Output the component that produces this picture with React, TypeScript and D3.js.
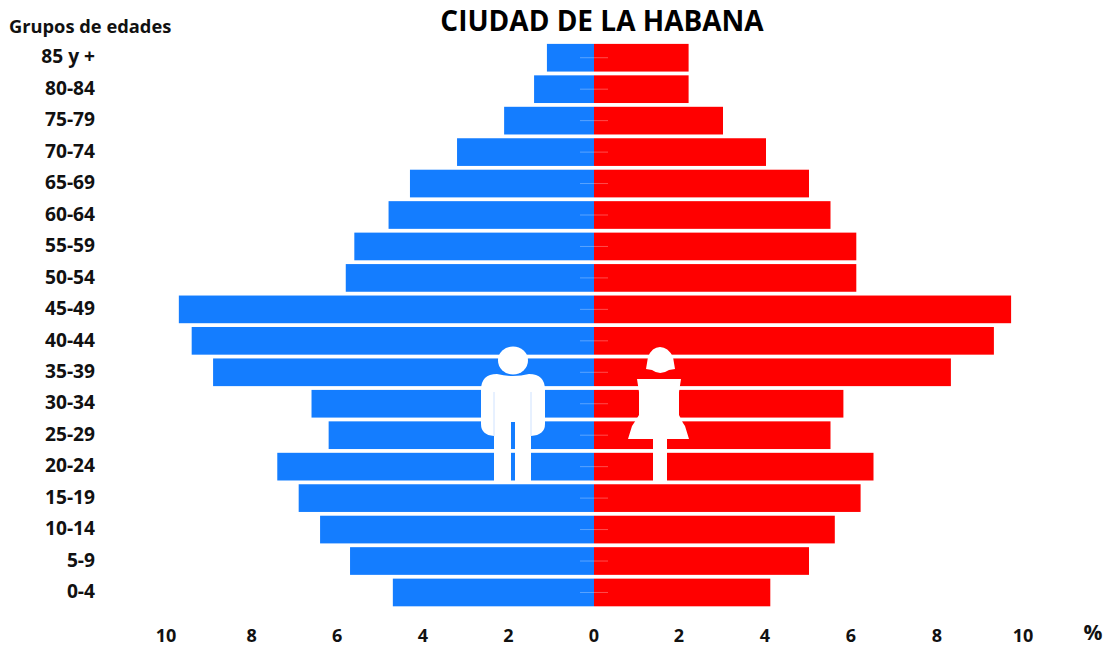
import React from 'react';
import * as d3 from 'd3';

const grupos = ['85 y +', '80-84', '75-79', '70-74', '65-69', '60-64', '55-59', '50-54', '45-49', '40-44', '35-39', '30-34', '25-29', '20-24', '15-19', '10-14', '5-9', '0-4'];
const hombres = [1.1, 1.4, 2.1, 3.2, 4.3, 4.8, 5.6, 5.8, 9.7, 9.4, 8.9, 6.6, 6.2, 7.4, 6.9, 6.4, 5.7, 4.7];
const mujeres = [2.2, 2.2, 3.0, 4.0, 5.0, 5.5, 6.1, 6.1, 9.7, 9.3, 8.3, 5.8, 5.5, 6.5, 6.2, 5.6, 5.0, 4.1];
const ticks = [10, 8, 6, 4, 2, 0];

const width = 1107;
const height = 647;
const font = '"Open Sans", sans-serif';

// the silhouettes are decoration, drawn in their own coordinates
function Hombre() {
    return (
        <g fill="#fff">
            <ellipse cx={513} cy={360.5} rx={15} ry={14} />
            <path d="M481 390 Q481 374 497 374 Q513 378 529 374 Q545 374 545 390 L545 424 Q545 435 531 436 L531 481 L515 481 L515 422 L511 422 L511 481 L494 481 L494 436 Q481 435 481 424 Z" />
            <path d="M494 392 V436 M531 392 V436" stroke="#cfe2ff" strokeWidth={1} fill="none" />
        </g>
    );
}

function Mujer() {
    return (
        <g fill="#fff">
            <path d="M646 369 L648 357 Q652 347 660 347 Q668 347 673 357 L675 369 L669 370 Q660 376 652 370 Z" />
            <path d="M637 379 L681 379 L679 392 L679 415 L683 423 L685 426 L689 439 L667 439 L667 481 L653 481 L653 439 L628 439 L632 426 L634 423 L639 415 L639 392 Z" />
        </g>
    );
}

export default function App() {
    const xLeft = d3.scaleLinear().domain([0, 10]).range([594, 166]);
    const xRight = d3.scaleLinear().domain([0, 10]).range([594, 1024]);
    const y = d3.scaleBand<string>().domain(grupos).range([42, 608.2]).paddingInner(0.12).paddingOuter(0.06);
    const mid = (g: string) => (y(g) as number) + y.bandwidth() / 2;

    return (
        <svg width={width} height={height} style={{ position: 'absolute', left: 0, top: 0, background: '#fff' }} fontFamily={font} fontWeight={700}>
            <text x={602} y={31} textAnchor="middle" fontSize={28} fill="#000">CIUDAD DE LA HABANA</text>
            <text x={9} y={33} fontSize={18.3} fill="#111">Grupos de edades</text>

            {grupos.map((g, i) => (
                <g key={g}>
                    <rect x={xLeft(hombres[i])} y={y(g)} width={xLeft(0) - xLeft(hombres[i])} height={y.bandwidth()} fill="#147dff" />
                    <rect x={xRight(0)} y={y(g)} width={xRight(mujeres[i]) - xRight(0)} height={y.bandwidth()} fill="#ff0000" />
                    <line x1={580} x2={608} y1={mid(g)} y2={mid(g)} stroke="#fff" strokeOpacity={0.3} />
                    <text x={95} y={mid(g)} dy="0.3em" textAnchor="end" fontSize={19.2} fill="#111">{g}</text>
                </g>
            ))}

            <Hombre />
            <Mujer />

            {ticks.map(t => (
                <text key={'l' + t} x={xLeft(t)} y={641.7} textAnchor="middle" fontSize={18} fill="#111">{t}</text>
            ))}
            {ticks.filter(t => t !== 0).map(t => (
                <text key={'r' + t} x={xRight(t) - 1} y={641.7} textAnchor="middle" fontSize={18} fill="#111">{t}</text>
            ))}
            <text x={1093} y={640} textAnchor="middle" fontSize={21} fill="#111">%</text>
        </svg>
    );
}
